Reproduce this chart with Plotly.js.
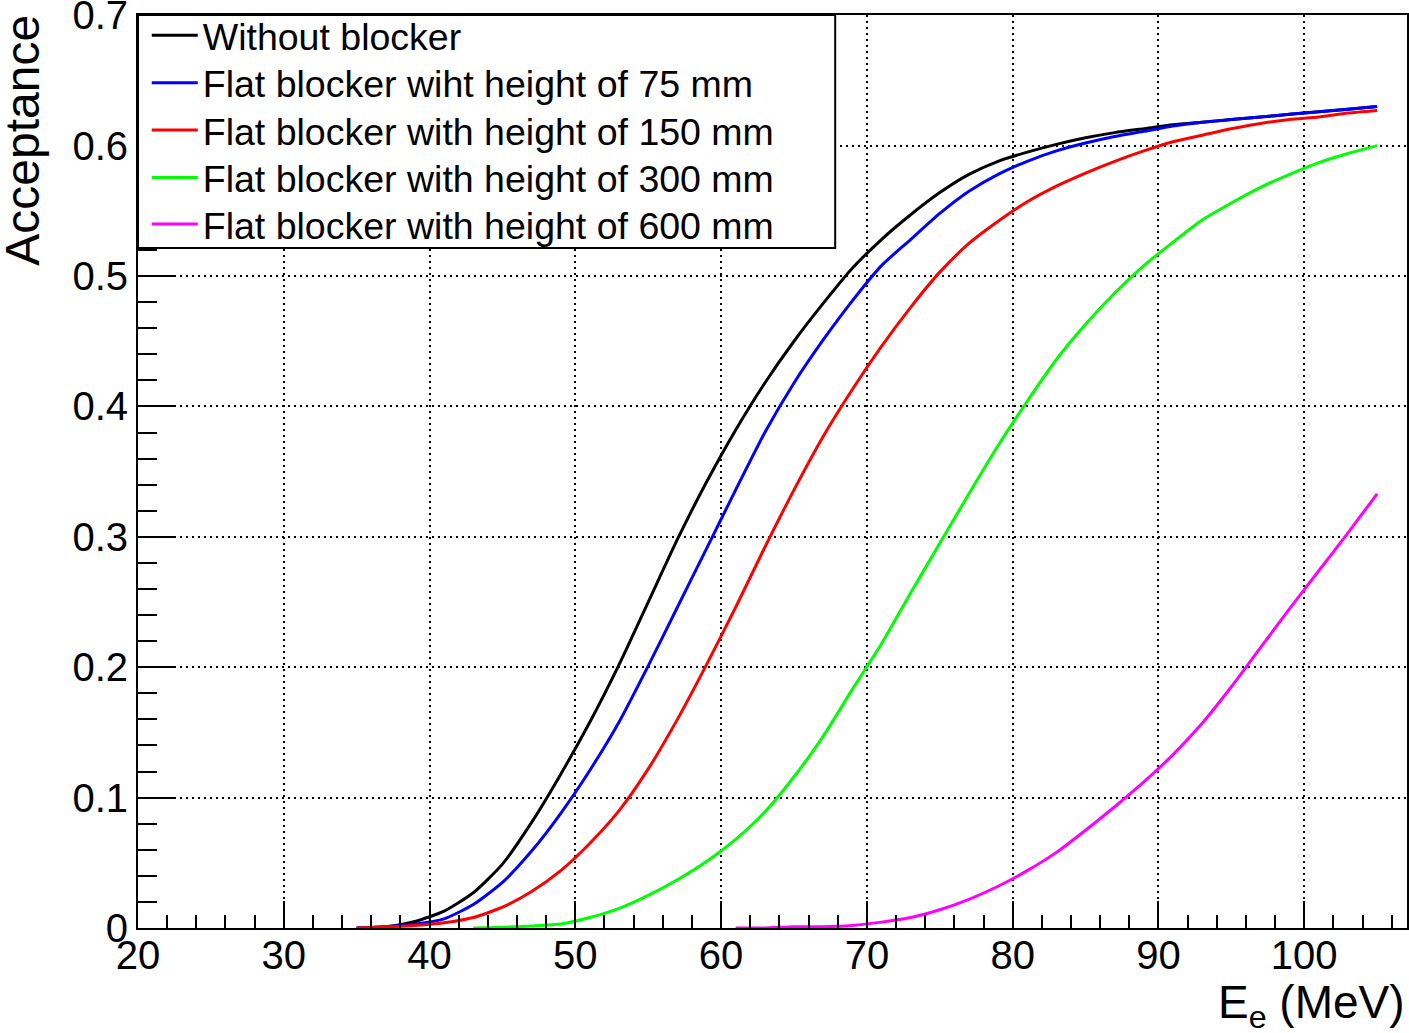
<!DOCTYPE html>
<html>
<head>
<meta charset="utf-8">
<script src="https://cdn.plot.ly/plotly-3.0.1.min.js"></script>
<style>
  html, body { margin: 0; padding: 0; background: #ffffff; }
  #chart { width: 1409px; height: 1033px; }
</style>
</head>
<body>
<div id="chart"></div>
<script>
// Electron energy (MeV) sampling points
const energyFull = [35, 37, 39, 41, 43, 45, 47, 49, 51, 53, 55, 57, 59, 61, 63, 65, 67, 69,
  71, 73, 75, 77, 79, 81, 83, 85, 87, 89, 91, 93, 95, 97, 99, 101, 103, 105];
const energy300 = [43, 45, 47, 49, 51, 53, 55, 57, 59, 61, 63, 65, 67, 69,
  71, 73, 75, 77, 79, 81, 83, 85, 87, 89, 91, 93, 95, 97, 99, 101, 103, 105];
const energy600 = [61, 63, 65, 67, 69, 71, 73, 75, 77, 79, 81, 83, 85, 87, 89,
  91, 93, 95, 97, 99, 101, 103, 105];

// Acceptance values
const accNoBlocker = [0.000, 0.001, 0.005, 0.013, 0.027, 0.049, 0.081, 0.118, 0.158, 0.202,
  0.250, 0.298, 0.342, 0.382, 0.418, 0.450, 0.479, 0.506, 0.528, 0.547, 0.564, 0.578,
  0.588, 0.595, 0.601, 0.606, 0.610, 0.613, 0.616, 0.618, 0.620, 0.622, 0.624, 0.626,
  0.628, 0.630];
const acc75 = [0.000, 0.001, 0.003, 0.007, 0.018, 0.035, 0.059, 0.088, 0.121, 0.158,
  0.201, 0.246, 0.291, 0.336, 0.380, 0.418, 0.451, 0.481, 0.508, 0.528, 0.548, 0.565,
  0.578, 0.588, 0.596, 0.602, 0.607, 0.611, 0.615, 0.618, 0.620, 0.622, 0.624, 0.626,
  0.628, 0.630];
const acc150 = [0.000, 0.001, 0.002, 0.004, 0.008, 0.016, 0.028, 0.044, 0.065, 0.090,
  0.122, 0.160, 0.202, 0.246, 0.292, 0.336, 0.377, 0.413, 0.446, 0.476, 0.503, 0.525,
  0.542, 0.557, 0.569, 0.579, 0.588, 0.596, 0.603, 0.608, 0.613, 0.617, 0.620, 0.622,
  0.625, 0.627];
const acc300 = [0.000, 0.0005, 0.0015, 0.003, 0.008, 0.015, 0.025, 0.037, 0.051, 0.068,
  0.089, 0.116, 0.147, 0.183, 0.218, 0.257, 0.295, 0.333, 0.370, 0.404, 0.436, 0.463,
  0.487, 0.508, 0.526, 0.543, 0.556, 0.568, 0.578, 0.587, 0.594, 0.600];
const acc600 = [0.000, 0.000, 0.001, 0.001, 0.002, 0.0045, 0.008, 0.014, 0.022, 0.032,
  0.044, 0.058, 0.075, 0.093, 0.112, 0.133, 0.157, 0.185, 0.215, 0.245, 0.274, 0.303,
  0.333];

const seriesNames = [
  'Without blocker',
  'Flat blocker wiht height of 75 mm',
  'Flat blocker with height of 150 mm',
  'Flat blocker with height of 300 mm',
  'Flat blocker with height of 600 mm'
];
const seriesColors = ['#000000', '#0000ff', '#ff0000', '#00ff00', '#ff00ff'];

const xs = [energyFull, energyFull, energyFull, energy300, energy600];
const ys = [accNoBlocker, acc75, acc150, acc300, acc600];

// one legend per entry so the rows sit at the same spacing as the ROOT legend
const legendIds = ['legend', 'legend2', 'legend3', 'legend4', 'legend5'];
const legendRowY = [0.9778, 0.9257, 0.8738, 0.8220, 0.7709];

const traces = seriesNames.map((name, i) => ({
  x: xs[i],
  y: ys[i],
  type: 'scatter',
  mode: 'lines',
  name: name,
  legend: legendIds[i],
  line: { color: seriesColors[i], width: 3, shape: 'spline', smoothing: 0.6 }
}));

const fontFamily = '"Liberation Sans", Arial, Helvetica, sans-serif';

const axisCommon = {
  ticks: 'inside',
  tickwidth: 2,
  tickcolor: '#000000',
  showline: true,
  linecolor: '#000000',
  linewidth: 2,
  mirror: true,
  zeroline: false,
  showgrid: true,
  gridcolor: '#000000',
  gridwidth: 1.5,
  griddash: '2px,4px',
  ticklabeloverflow: 'allow',
  tickfont: { family: fontFamily, size: 40, color: '#000000' }
};

const layout = {
  width: 1409,
  height: 1033,
  margin: { l: 138, r: 2, t: 15, b: 105 },
  paper_bgcolor: '#ffffff',
  plot_bgcolor: '#ffffff',
  font: { family: fontFamily, color: '#000000' },
  showlegend: true,
  xaxis: Object.assign({}, axisCommon, {
    range: [20, 107.05],
    tick0: 20,
    dtick: 10,
    ticklen: 27,
    ticklabelstandoff: -9,
    minor: { dtick: 2, ticks: 'inside', ticklen: 13, tickwidth: 2, tickcolor: '#000000' }
  }),
  yaxis: Object.assign({}, axisCommon, {
    range: [0, 0.7002],
    tick0: 0,
    dtick: 0.1,
    ticklen: 38,
    minor: { dtick: 0.02, ticks: 'inside', ticklen: 19, tickwidth: 2, tickcolor: '#000000' }
  }),
  shapes: [{
    type: 'rect',
    xref: 'paper',
    yref: 'paper',
    x0: 0,
    x1: 0.5494,
    y0: 0.7449,
    y1: 1,
    layer: 'above',
    fillcolor: '#ffffff',
    line: { color: '#000000', width: 2 }
  }],
  annotations: [
    {
      text: 'Acceptance',
      xref: 'paper',
      yref: 'paper',
      x: -0.0907,
      y: 1.003,
      xanchor: 'center',
      yanchor: 'top',
      textangle: -90,
      showarrow: false,
      font: { family: fontFamily, size: 48, color: '#000000' }
    },
    {
      text: 'E<sub>e</sub> (MeV)',
      xref: 'paper',
      yref: 'paper',
      x: 1,
      y: -0.0853,
      xanchor: 'right',
      yanchor: 'middle',
      showarrow: false,
      font: { family: fontFamily, size: 46, color: '#000000' }
    }
  ]
};

legendIds.forEach((id, i) => {
  layout[id] = {
    x: 0.0069,
    y: legendRowY[i],
    xanchor: 'left',
    yanchor: 'middle',
    bgcolor: 'rgba(0,0,0,0)',
    borderwidth: 0,
    itemwidth: 46,
    font: { family: fontFamily, size: 37.5, color: '#000000' }
  };
});

const config = { displayModeBar: false, responsive: false };

Plotly.newPlot('chart', traces, layout, config);
</script>
</body>
</html>
